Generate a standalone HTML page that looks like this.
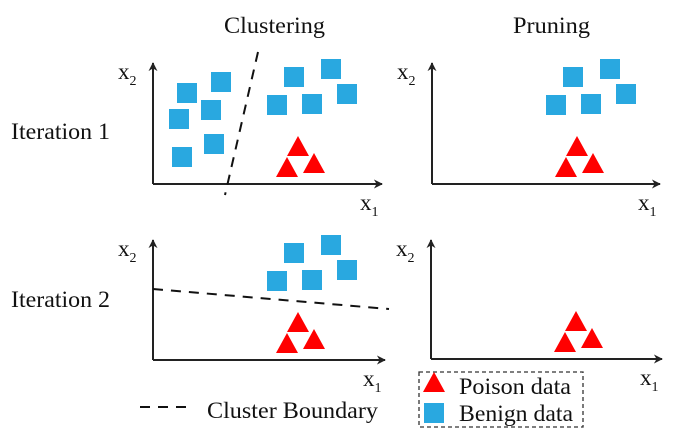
<!DOCTYPE html>
<html><head><meta charset="utf-8"><style>
html,body{margin:0;padding:0;background:#fff;}
svg{display:block;font-family:"Liberation Serif",serif;}
</style></head><body>
<svg id="fig" width="681" height="437" viewBox="0 0 681 437">
<defs>
<marker id="arr" viewBox="0 0 10 10" refX="9" refY="5" markerWidth="9" markerHeight="9" markerUnits="userSpaceOnUse" orient="auto"><path d="M0,0 L10,5 L0,10 L3,5 Z" fill="#222"/></marker>
</defs>
<text x="224" y="33" font-size="23" textLength="101" lengthAdjust="spacingAndGlyphs" fill="#111">Clustering</text>
<text x="513" y="33" font-size="23" textLength="77" lengthAdjust="spacingAndGlyphs" fill="#111">Pruning</text>
<text x="11" y="139" font-size="23" textLength="99" lengthAdjust="spacingAndGlyphs" fill="#111">Iteration 1</text>
<text x="11" y="307" font-size="23" textLength="99" lengthAdjust="spacingAndGlyphs" fill="#111">Iteration 2</text>
<g id="panels"></g>
<line x1="140" y1="407" x2="192" y2="407" stroke="#111" stroke-width="2" stroke-dasharray="10,8"/>
<text x="207" y="418" font-size="23" textLength="171" lengthAdjust="spacingAndGlyphs" fill="#111">Cluster Boundary</text>
<rect x="419" y="372" width="164" height="55" fill="none" stroke="#333" stroke-width="1.3" stroke-dasharray="4,3"/>
<polygon points="434,372 445,392 423,392" fill="#f00"/>
<text x="459" y="394" font-size="23" textLength="112" lengthAdjust="spacingAndGlyphs" fill="#111">Poison data</text>
<rect x="424" y="403" width="20" height="20" fill="#29a8e0"/>
<text x="459" y="421" font-size="23" textLength="114" lengthAdjust="spacingAndGlyphs" fill="#111">Benign data</text>
</svg>
<script>
// benign data (x1, x2) in panel units
const benignLeftX1 = [34, 68, 26, 58, 29, 61];
const benignLeftX2 = [91, 102, 65, 74, 27, 40];
const benignRightX1 = [141, 178, 124, 159, 194];
const benignRightX2 = [107, 115, 79, 80, 90];
const poisonX1 = [145, 134, 161];
const poisonX2 = [38, 17, 21];
const boundary1X1 = [105, 72];
const boundary1X2 = [132, -11];
const boundary2X1 = [0, 236];
const boundary2X2 = [71, 51];

const NS = "http://www.w3.org/2000/svg";
const root = document.getElementById('panels');
function mk(tag, attrs){const e=document.createElementNS(NS,tag);for(const k in attrs)e.setAttribute(k,attrs[k]);return e;}

const panels = [
  {name:'iter1-clustering', ox:153, oy:184, xe:382, yt:63, left:true, right:true, poison:true, b:[boundary1X1,boundary1X2]},
  {name:'iter1-pruning', ox:432, oy:184, xe:660, yt:63, left:false, right:true, poison:true, b:null},
  {name:'iter2-clustering', ox:153, oy:360, xe:385, yt:240, left:false, right:true, poison:true, b:[boundary2X1,boundary2X2]},
  {name:'iter2-pruning', ox:431, oy:359, xe:662, yt:240, left:false, right:false, poison:true, b:null}
];

panels.forEach(p=>{
  const g = mk('g',{});
  
  
  const sx = v => p.ox + v;
  const sy = v => p.oy - v;
  const ya = mk('line',{x1:p.ox,y1:p.oy,x2:p.ox,y2:p.yt,stroke:'#222','stroke-width':2,'marker-end':'url(#arr)'});
  
  
  g.appendChild(ya);
  const xa = mk('line',{x1:p.ox,y1:p.oy,x2:p.xe,y2:p.oy,stroke:'#222','stroke-width':2,'marker-end':'url(#arr)'});
  
  
  g.appendChild(xa);
  const l2 = mk('text',{x:p.ox-35,y:p.yt+16,'font-size':23,fill:'#111'});
  l2.innerHTML='x<tspan font-size="14" dy="6">2</tspan>';
  
  
  g.appendChild(l2);
  const l1 = mk('text',{x:p.xe-22,y:p.oy+26,'font-size':23,fill:'#111'});
  l1.innerHTML='x<tspan font-size="14" dy="6">1</tspan>';
  
  
  g.appendChild(l1);
  function sq(xs,ys){xs.forEach((v,i)=>{
    const r=mk('rect',{x:sx(v)-10,y:sy(ys[i])-10,width:20,height:20,fill:'#29a8e0'});
    
    
    g.appendChild(r);});}
  if(p.left) sq(benignLeftX1, benignLeftX2);
  if(p.right) sq(benignRightX1, benignRightX2);
  if(p.poison) poisonX1.forEach((v,i)=>{
    const cx=sx(v), cy=sy(poisonX2[i]);
    const t=mk('polygon',{points:`${cx},${cy-10} ${cx+11},${cy+10} ${cx-11},${cy+10}`,fill:'#f00'});
    
    
    g.appendChild(t);});
  if(p.b){
    const ln=mk('line',{x1:sx(p.b[0][0]),y1:sy(p.b[1][0]),x2:sx(p.b[0][1]),y2:sy(p.b[1][1]),stroke:'#111','stroke-width':2,'stroke-dasharray':'10,8'});
    
    
    g.appendChild(ln);
  }
  root.appendChild(g);
});
</script>
</body></html>
